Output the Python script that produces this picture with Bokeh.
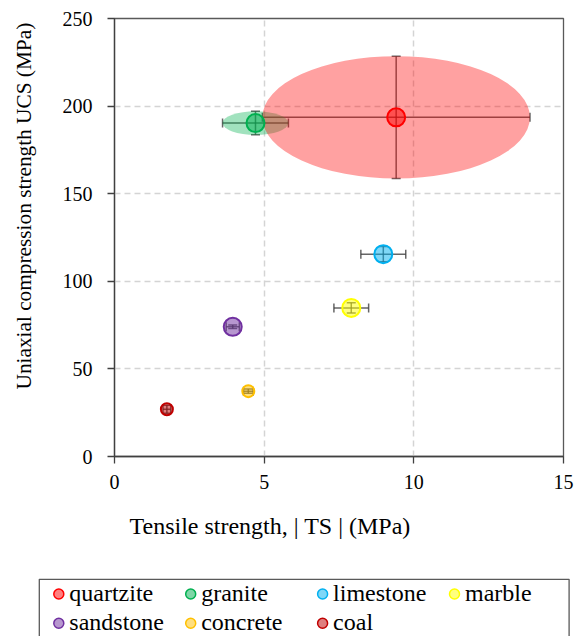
import numpy as np
from bokeh.plotting import figure
from bokeh.models import ColumnDataSource, Whisker, TeeHead, Range1d, FixedTicker
from bokeh.layouts import column, row
from bokeh.embed import file_html
from bokeh.resources import INLINE
from bokeh.core.properties import value

# ---------------- data ----------------
names = ["quartzite", "granite", "limestone", "marble", "sandstone", "concrete", "coal"]
ts = [9.41, 4.71, 8.98, 7.91, 3.95, 4.47, 1.75]          # tensile strength |TS| (MPa)
ts_err = [4.47, 1.10, 0.75, 0.58, 0.22, 0.16, 0.13]
ucs = [193.6, 190.3, 115.5, 84.8, 74.0, 37.3, 27.0]      # UCS (MPa)
ucs_err = [34.9, 6.7, 4.3, 2.9, 1.0, 1.2, 2.3]
spread_names = ["granite", "quartzite"]                  # materials drawn with a spread ellipse

x_ticks = [0, 5, 10, 15]
y_ticks = [0, 50, 100, 150, 200, 250]
x_title = "Tensile strength,  | TS | (MPa)"
y_title = "Uniaxial compression strength UCS (MPa)"

# ---------------- styles ----------------
colors = ["#ff0000", "#00b050", "#00b0f0", "#ffff00", "#7030a0", "#ffc000", "#c00000"]
msize = [18, 18, 18, 18, 18, 12, 12]
FONT = "Liberation Serif"
ERR = "#404040"

src = ColumnDataSource(dict(
    name=names, x=ts, y=ucs, color=colors, size=msize,
    xl=[a - b for a, b in zip(ts, ts_err)], xu=[a + b for a, b in zip(ts, ts_err)],
    yl=[a - b for a, b in zip(ucs, ucs_err)], yu=[a + b for a, b in zip(ucs, ucs_err)],
))
idx = [names.index(n) for n in spread_names]
ell = ColumnDataSource(dict(
    x=[ts[i] for i in idx], y=[ucs[i] for i in idx],
    w=[2 * ts_err[i] for i in idx], h=[2 * ucs_err[i] for i in idx],
    color=[colors[i] for i in idx],
))


def blank(width, height, y0=0, y1=None, top=0, bottom=0):
    f = figure(width=width, height=height, x_range=Range1d(0, width),
               y_range=Range1d(y0, height if y1 is None else y1),
               output_backend="svg", toolbar_location=None, min_border=0,
               min_border_top=top, min_border_bottom=bottom,
               x_axis_location=None, y_axis_location=None)
    f.outline_line_color = None
    f.xgrid.visible = False
    f.ygrid.visible = False
    f.background_fill_color = "white"
    f.border_fill_color = "white"
    return f


# ---------------- main plot ----------------
p = figure(width=533, height=500, x_range=Range1d(0, 15), y_range=Range1d(0, 250),
           output_backend="svg", toolbar_location=None,
           min_border_left=68, min_border_right=16, min_border_top=18, min_border_bottom=44)
p.background_fill_color = "white"
p.border_fill_color = "white"
p.outline_line_color = "#595959"
p.outline_line_width = 1.3

p.xaxis.ticker = FixedTicker(ticks=x_ticks)
p.yaxis.ticker = FixedTicker(ticks=y_ticks)
for ax in (p.xaxis[0], p.yaxis[0]):
    ax.axis_line_color = "#404040"
    ax.axis_line_width = 1.3
    ax.major_tick_line_color = "#404040"
    ax.major_tick_line_width = 1.3
    ax.major_tick_out = 7
    ax.major_tick_in = 0
    ax.minor_tick_line_color = None
    ax.major_label_text_font = FONT
    ax.major_label_text_font_size = "20px"
    ax.major_label_text_color = "black"
p.yaxis.major_label_standoff = 15
p.xaxis.major_label_standoff = 11

for g in (p.xgrid[0], p.ygrid[0]):
    g.grid_line_color = "#d4d4d4"
    g.grid_line_width = 1.5
    g.grid_line_dash = "6 4"

p.ellipse(x="x", y="y", width="w", height="h", fill_color="color", fill_alpha=0.37,
          line_color=None, source=ell)
p.scatter(x="x", y="y", size="size", fill_color="color", fill_alpha=0.5,
          line_color="color", line_width=2, source=src)

head = dict(size=9, line_color=ERR, line_width=1.5, line_alpha=0.8)
p.add_layout(Whisker(base="y", lower="xl", upper="xu", dimension="width", source=src,
                     line_color=ERR, line_width=1.5, line_alpha=0.8,
                     lower_head=TeeHead(**head), upper_head=TeeHead(**head)))
p.add_layout(Whisker(base="x", lower="yl", upper="yu", dimension="height", source=src,
                     line_color=ERR, line_width=1.5, line_alpha=0.8,
                     lower_head=TeeHead(**head), upper_head=TeeHead(**head)))

# ---------------- y-axis title strip (frame aligned with main plot frame) ----------------
yl = blank(46, 500, y0=44, y1=482, top=18, bottom=44)
yl.text(x=[23.7], y=[111], text=[y_title], angle=np.pi / 2, text_align="left",
        text_baseline="alphabetic", text_font=value(FONT), text_font_size="21.3px",
        text_color="black")

# ---------------- bottom strip: x-axis title + legend ----------------
bt = blank(579, 136)
bt.text(x=[129], y=[111], text=[x_title], text_align="left", text_baseline="alphabetic",
        text_font=value(FONT), text_font_size="24px", text_color="black")
bt.quad(left=38.8, right=568.6, top=57.2, bottom=-20, fill_color=None,
        line_color="#595959", line_width=1.3)
cols = [i % 4 for i in range(len(names))]
rows = [i // 4 for i in range(len(names))]
lsrc = ColumnDataSource(dict(
    x=[58.3 + 131.9 * c for c in cols], y=[42.5 - 29.2 * r for r in rows],
    color=colors, name=names))
bt.scatter(x="x", y="y", size=10, fill_color="color", fill_alpha=0.5,
           line_color="color", line_width=1.5, source=lsrc)
bt.text(x="x", y="y", text="name", x_offset=10.5, y_offset=-0.8, text_baseline="alphabetic",
        text_align="left", text_font=value(FONT), text_font_size="24px", text_color="black",
        source=lsrc)

layout = column(row(yl, p, spacing=0), bt, spacing=0)
open("out.html", "w").write(file_html(layout, INLINE))
